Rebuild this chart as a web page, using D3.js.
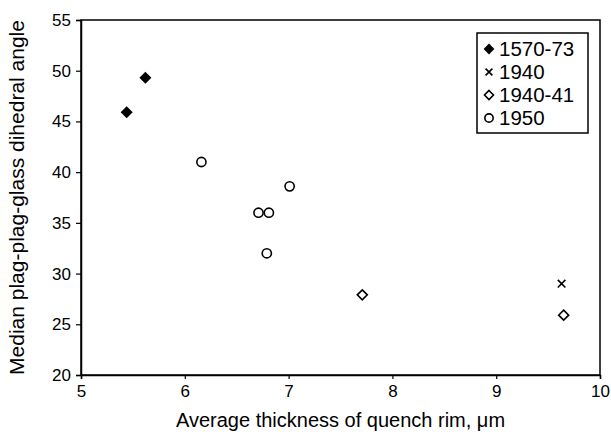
<!DOCTYPE html>
<html>
<head>
<meta charset="utf-8">
<script src="https://cdn.jsdelivr.net/npm/d3@7"></script>
<style>
  body { margin: 0; background: #fff; }
  svg text { font-family: "Liberation Sans", Arial, sans-serif; fill: #000; }
</style>
</head>
<body>
<div id="chart"></div>
<script>
// data
const series = ["1570-73", "1940", "1940-41", "1950"];
const thick1570 = [5.44, 5.62];
const angle1570 = [45.9, 49.3];
const thick1940 = [9.63];
const angle1940 = [29.0];
const thick194041 = [7.71, 9.65];
const angle194041 = [27.9, 25.9];
const thick1950 = [6.16, 7.01, 6.71, 6.81, 6.79];
const angle1950 = [41.0, 38.6, 36.0, 36.0, 32.0];
const xTicks = [5, 6, 7, 8, 9, 10];
const yTicks = [20, 25, 30, 35, 40, 45, 50, 55];

const width = 611, height = 437;
const margin = { left: 81, right: 11, top: 20, bottom: 62 };

const svg = d3.select("#chart").append("svg")
  .attr("width", width)
  .attr("height", height);

const x = d3.scaleLinear().domain([5, 10]).range([margin.left, width - margin.right]);
const y = d3.scaleLinear().domain([20, 55]).range([height - margin.bottom, margin.top]);

// frame round the plot area
svg.append("rect")
  .attr("x", x(5)).attr("y", y(55))
  .attr("width", x(10) - x(5)).attr("height", y(20) - y(55))
  .attr("fill", "none").attr("stroke", "#000").attr("stroke-width", 1.5);

// axes
const xAxis = svg.append("g")
  .attr("transform", `translate(0,${y(20)})`)
  .call(d3.axisBottom(x).tickValues(xTicks).tickSize(4).tickPadding(6).tickFormat(d3.format("d")));
const yAxis = svg.append("g")
  .attr("transform", `translate(${x(5)},0)`)
  .call(d3.axisLeft(y).tickValues(yTicks).tickSize(5).tickPadding(5).tickFormat(d3.format("d")));
[xAxis, yAxis].forEach(a => {
  a.select(".domain").attr("stroke-width", 1.5);
  a.selectAll(".tick line").attr("stroke-width", 1.2);
  a.selectAll("text").style("font-size", "17px").attr("fill", "#000")
    .style("font-family", '"Liberation Sans", Arial, sans-serif');
});

// axis titles
svg.append("text")
  .attr("x", (x(5) + x(10)) / 2).attr("y", 427)
  .attr("text-anchor", "middle").style("font-size", "20px")
  .text("Average thickness of quench rim, \u03bcm");
svg.append("text")
  .attr("transform", `translate(24,${(y(20) + y(55)) / 2}) rotate(-90)`)
  .attr("text-anchor", "middle").style("font-size", "21px")
  .text("Median plag-plag-glass dihedral angle");

// marker painters
function drawMarker(g, type, k = 1) {
  if (type === "1570-73") {
    g.append("path").attr("d", d3.line()([[0, -6 * k], [6 * k, 0], [0, 6 * k], [-6 * k, 0]]) + "Z").attr("fill", "#000");
  } else if (type === "1940") {
    const c = 3.8 * k;
    g.append("path").attr("d", `M${-c},${-c}L${c},${c}M${-c},${c}L${c},${-c}`)
      .attr("stroke", "#000").attr("stroke-width", 1.6).attr("fill", "none");
  } else if (type === "1940-41") {
    g.append("path").attr("d", d3.line()([[0, -5 * k], [5 * k, 0], [0, 5 * k], [-5 * k, 0]]) + "Z")
      .attr("fill", "#fff").attr("stroke", "#000").attr("stroke-width", 1.6);
  } else {
    g.append("circle").attr("r", 4.6 * k)
      .attr("fill", "#fff").attr("stroke", "#000").attr("stroke-width", 1.6);
  }
}

const groups = [
  { name: "1570-73", xs: thick1570, ys: angle1570 },
  { name: "1940", xs: thick1940, ys: angle1940 },
  { name: "1940-41", xs: thick194041, ys: angle194041 },
  { name: "1950", xs: thick1950, ys: angle1950 }
];

groups.forEach(s => {
  s.xs.forEach((v, i) => {
    const g = svg.append("g").attr("transform", `translate(${x(v)},${y(s.ys[i])})`);
    drawMarker(g, s.name);
  });
});

// legend
const legend = svg.append("g").attr("transform", "translate(477,33)");
legend.append("rect")
  .attr("width", 111).attr("height", 100)
  .attr("fill", "#fff").attr("stroke", "#000").attr("stroke-width", 1.5);
series.forEach((name, i) => {
  const row = legend.append("g").attr("transform", `translate(0,${16 + i * 23})`);
  drawMarker(row.append("g").attr("transform", "translate(12,0)"), name, 0.9);
  row.append("text").attr("x", 22).attr("y", 7).style("font-size", "20.5px").text(name);
});
</script>
</body>
</html>
